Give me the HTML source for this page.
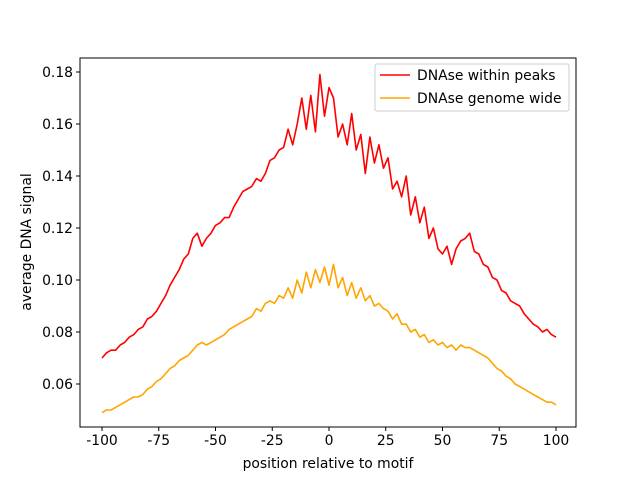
<!DOCTYPE html>
<html><head><meta charset="utf-8"><style>
body{margin:0;background:#fff}
svg{display:block;font-family:"DejaVu Sans","Liberation Sans",sans-serif}
</style></head><body>
<svg id="chart" width="640" height="480"></svg>
<script>
const xTicks=[-100,-75,-50,-25,0,25,50,75,100];
const yTicks=[0.06,0.08,0.10,0.12,0.14,0.16,0.18];
const yTickLabels=["0.06","0.08","0.10","0.12","0.14","0.16","0.18"];
const xStart=-100, xStep=2;
const peaks=[.070,.072,.073,.073,.075,.076,.078,.079,.081,.082,.085,.086,.088,.091,.094,.098,.101,.104,.108,.110,.116,.118,.113,.116,.118,.121,.122,.124,.124,.128,.131,.134,.135,.136,.139,.138,.141,.146,.147,.150,.151,.158,.152,.160,.170,.158,.171,.157,.179,.163,.174,.170,.155,.160,.152,.164,.150,.156,.141,.155,.145,.152,.143,.147,.135,.138,.132,.140,.125,.132,.122,.128,.116,.120,.112,.110,.113,.106,.112,.115,.116,.118,.111,.110,.106,.105,.101,.100,.096,.095,.092,.091,.090,.087,.085,.083,.082,.080,.081,.079,.078];
const genome=[.049,.050,.050,.051,.052,.053,.054,.055,.055,.056,.058,.059,.061,.062,.064,.066,.067,.069,.070,.071,.073,.075,.076,.075,.076,.077,.078,.079,.081,.082,.083,.084,.085,.086,.089,.088,.091,.092,.091,.094,.093,.097,.093,.100,.095,.103,.097,.104,.099,.105,.098,.106,.097,.101,.094,.099,.093,.097,.092,.094,.090,.091,.089,.088,.085,.087,.083,.083,.080,.081,.078,.079,.076,.077,.075,.076,.074,.075,.073,.075,.074,.074,.073,.072,.071,.070,.068,.066,.065,.063,.062,.060,.059,.058,.057,.056,.055,.054,.053,.053,.052];
const NS="http://www.w3.org/2000/svg";
const svg=document.getElementById('chart');
const L=80,R=576,T=58,B=427;
const X=v=>102+(v+100)*454/200;
const Y=v=>72+(0.18-v)*2600;
const FS=13.9;
function mk(tag,attrs,parent){const e=document.createElementNS(NS,tag);for(const k in attrs)e.setAttribute(k,attrs[k]);(parent||svg).appendChild(e);return e;}
const frame=mk('rect',{x:L,y:T,width:R-L,height:B-T,fill:'none',stroke:'#000','stroke-width':1});


xTicks.forEach(t=>{
  const l=mk('line',{x1:X(t),x2:X(t),y1:B,y2:B+4,stroke:'#000'});
  
  
  const tx=mk('text',{x:X(t),y:B+18,'font-size':FS,'text-anchor':'middle'});
  tx.textContent=t;
  
  
});
yTicks.forEach((t,i)=>{
  const l=mk('line',{x1:L-4,x2:L,y1:Y(t),y2:Y(t),stroke:'#000'});
  
  
  const tx=mk('text',{x:L-7,y:Y(t)+5,'font-size':FS,'text-anchor':'end'});
  tx.textContent=yTickLabels[i];
  
  
});
function series(arr,color,name){
  const d=arr.map((v,i)=>(i?'L':'M')+X(xStart+i*xStep).toFixed(1)+','+Y(v).toFixed(1)).join('');
  const p=mk('path',{d:d,fill:'none',stroke:color,'stroke-width':1.6,'stroke-linejoin':'round'});
  
  
}
series(peaks,'#ff0000','line-dnase-within-peaks');
series(genome,'#ffa500','line-dnase-genome-wide');
const xl=mk('text',{x:328,y:468,'font-size':FS,'text-anchor':'middle'});
xl.textContent='position relative to motif';


const yl=mk('text',{x:0,y:0,'font-size':FS,'text-anchor':'middle',transform:'translate(31,242) rotate(-90)'});
yl.textContent='average DNA signal';


const lg=mk('g',{});


mk('rect',{x:375,y:64,width:194,height:47,rx:2,fill:'#fff',stroke:'#ccc'},lg);
[['#ff0000','DNAse within peaks',75],['#ffa500','DNAse genome wide',98]].forEach(([c,t,y])=>{
  const g=mk('g',{},lg);
  
  
  mk('line',{x1:380,x2:410,y1:y,y2:y,stroke:c,'stroke-width':1.6},g);
  const tx=mk('text',{x:417,y:y+5,'font-size':FS},g);
  tx.textContent=t;
});
</script>
</body></html>
